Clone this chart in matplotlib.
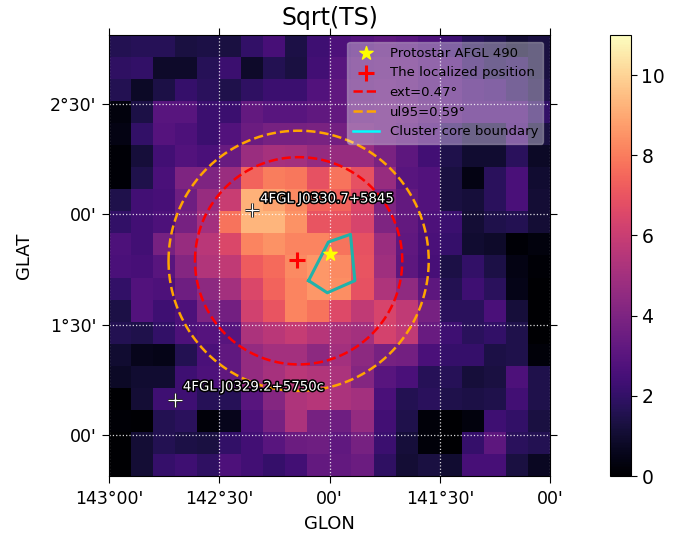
import numpy as np
import matplotlib
matplotlib.use('Agg')
import matplotlib.pyplot as plt
import matplotlib.patheffects as pe

# sqrt(TS) map, top row first
ts_rows = [
    [1.6, 1.7, 1.7, 1.3, 1.4, 1.3, 2.0, 2.5, 1.4, 2.3, 2.7, 2.9, 3.1, 3.0, 2.7, 2.3, 1.7, 1.5, 1.1, 1.3],
    [1.9, 2.0, 0.9, 0.9, 1.7, 2.2, 0.9, 1.6, 1.3, 2.4, 3.0, 3.2, 3.3, 3.3, 3.0, 2.8, 2.1, 1.7, 1.9, 1.3],
    [1.6, 0.8, 1.4, 2.1, 1.8, 1.5, 1.9, 2.2, 2.2, 2.8, 3.2, 3.3, 3.4, 3.3, 3.0, 2.9, 2.5, 2.4, 1.9, 1.5],
    [0.3, 1.4, 3.0, 3.0, 2.2, 2.2, 3.3, 3.0, 3.0, 3.2, 3.3, 3.4, 3.5, 3.4, 3.1, 3.0, 2.7, 2.7, 2.7, 2.0],
    [0.4, 2.0, 2.9, 2.7, 2.2, 2.8, 3.5, 3.8, 3.8, 3.9, 3.7, 3.7, 3.5, 3.2, 2.8, 2.0, 1.5, 1.5, 2.5, 1.3],
    [0.1, 1.2, 2.4, 2.8, 2.6, 3.4, 4.8, 5.1, 5.0, 4.6, 4.7, 4.7, 3.9, 3.1, 2.4, 1.5, 1.0, 1.0, 1.8, 0.8],
    [0.1, 1.5, 2.6, 4.0, 4.0, 4.8, 7.4, 8.0, 7.9, 6.9, 7.8, 6.9, 4.7, 3.0, 2.8, 1.3, 0.4, 1.8, 2.6, 1.0],
    [1.5, 2.4, 2.5, 3.6, 4.7, 6.0, 9.2, 8.9, 8.3, 7.4, 7.4, 6.5, 4.0, 3.3, 2.8, 1.3, 1.2, 1.8, 2.6, 1.1],
    [2.0, 2.4, 2.7, 3.8, 5.0, 7.8, 9.3, 9.3, 8.5, 7.0, 7.0, 6.4, 4.0, 3.3, 2.7, 2.2, 1.1, 1.5, 1.6, 1.1],
    [2.7, 2.4, 3.8, 4.7, 5.6, 6.5, 8.2, 8.5, 8.2, 8.2, 7.8, 6.9, 4.8, 3.2, 2.6, 2.1, 1.0, 0.9, 0.1, 0.3],
    [2.6, 2.5, 3.0, 4.2, 5.4, 5.8, 7.2, 7.6, 8.3, 8.6, 8.3, 7.0, 4.9, 3.1, 2.5, 1.4, 2.0, 1.4, 0.4, 0.1],
    [2.0, 2.8, 2.7, 3.6, 4.4, 5.0, 6.5, 7.4, 8.2, 8.6, 8.4, 6.9, 5.3, 4.5, 3.1, 1.6, 2.3, 1.8, 0.5, 0.0],
    [1.4, 2.8, 2.3, 2.7, 4.0, 3.7, 6.2, 7.0, 8.2, 7.8, 6.6, 5.8, 6.4, 5.8, 3.8, 1.8, 1.8, 2.6, 1.2, 0.0],
    [1.6, 1.5, 2.0, 2.7, 2.9, 3.0, 5.2, 5.6, 5.9, 5.5, 5.2, 5.0, 6.3, 5.8, 3.4, 2.3, 1.8, 2.0, 1.5, 0.0],
    [1.0, 0.6, 0.5, 1.6, 2.6, 3.2, 4.6, 5.0, 5.0, 4.4, 5.0, 4.4, 3.8, 3.7, 2.6, 2.1, 2.1, 1.4, 1.5, 0.2],
    [0.8, 1.0, 1.0, 2.3, 2.7, 3.2, 4.6, 5.1, 5.6, 5.4, 5.2, 4.2, 3.0, 2.6, 1.7, 1.7, 1.2, 1.3, 2.7, 1.5],
    [0.0, 1.1, 2.3, 2.3, 1.7, 1.7, 3.0, 4.2, 5.3, 5.5, 5.2, 5.0, 2.6, 1.6, 1.8, 1.5, 1.4, 1.5, 2.4, 1.5],
    [0.1, 0.05, 1.6, 1.8, 0.2, 0.6, 2.7, 3.8, 5.2, 3.8, 3.6, 4.6, 2.4, 1.5, 0.2, 0.0, 0.3, 2.3, 2.0, 1.3],
    [0.0, 1.1, 1.6, 1.4, 1.3, 2.0, 2.4, 3.0, 3.5, 3.6, 3.2, 3.8, 2.2, 1.2, 0.2, 0.0, 2.1, 3.1, 1.8, 1.6],
    [0.0, 1.1, 2.1, 2.3, 1.9, 2.7, 2.4, 2.1, 2.4, 3.3, 3.3, 3.5, 1.9, 1.1, 1.3, 1.0, 2.5, 2.5, 1.3, 0.7],
]

map_extent = [143.0, 141.0, 0.814, 2.814]

glon_ticks = [143.0, 142.5, 142.0, 141.5, 141.0]
glon_labels = ["143°00'", "142°30'", "00'", "141°30'", "00'"]
glat_ticks = [1.0, 1.5, 2.0, 2.5]
glat_labels = ["00'", "1°30'", "00'", "2°30'"]

star_lon, star_lat = 142.0, 1.82
center_lon, center_lat = 142.148, 1.794
circle_lon, circle_lat = 142.14, 1.79
ext_radius = 0.47
ul95_radius = 0.59

source_names = ['4FGL J0330.7+5845', '4FGL J0329.2+5750c']
source_lon = [142.35, 142.70]
source_lat = [2.02, 1.16]
label_lon = [142.315, 142.665]
label_lat = [2.07, 1.217]

core_lon = [142.095, 142.005, 141.905, 141.885, 142.01, 142.095]
core_lat = [1.70, 1.875, 1.91, 1.70, 1.645, 1.70]

fig = plt.figure(figsize=(6.86, 5.34), dpi=100)
ax = fig.add_axes([109 / 686, 1 - 476 / 534, 441 / 686, 441 / 534])
im = ax.imshow(np.array(ts_rows), cmap='magma', vmin=0, vmax=11, extent=map_extent,
               interpolation='nearest', aspect='auto')

ax.grid(color='white', linestyle=':', linewidth=0.9, alpha=0.85)
ax.set_xticks(glon_ticks)
ax.set_xticklabels(glon_labels)
ax.set_yticks(glat_ticks)
ax.set_yticklabels(glat_labels)
ax.tick_params(axis='both', labelsize=12.5, top=True, right=True, length=5, width=0.8, pad=4)
ax.tick_params(axis='x', pad=5)
ax.set_xlim(map_extent[0], map_extent[1])
ax.set_ylim(map_extent[2], map_extent[3])
ax.set_xlabel('GLON', fontsize=13, labelpad=5)
ax.set_ylabel('GLAT', fontsize=13, labelpad=12)
ax.set_title('Sqrt(TS)', fontsize=17, pad=7)

# 圆
theta = np.linspace(0, 2 * np.pi, 300)
ax.plot(circle_lon + ext_radius * np.cos(theta), circle_lat + ext_radius * np.sin(theta),
        color='red', linestyle='--', linewidth=1.8, label='ext=0.47°')
ax.plot(circle_lon + ul95_radius * np.cos(theta), circle_lat + ul95_radius * np.sin(theta),
        color='orange', linestyle='--', linewidth=1.8, label='ul95=0.59°')
ax.plot(core_lon, core_lat, color='lightseagreen', linewidth=2.2, solid_joinstyle='round')
ax.plot([], [], color='cyan', linewidth=1.8, label='Cluster core boundary')

ax.scatter([star_lon], [star_lat], marker='*', s=100, color='yellow', zorder=5,
           label='Protostar AFGL 490')
ax.scatter([center_lon], [center_lat], marker='+', s=120, color='red', linewidths=2.2,
           zorder=5, label='The localized position')

outline = [pe.withStroke(linewidth=2.2, foreground='black')]
for name, x, y, tx, ty in zip(source_names, source_lon, source_lat, label_lon, label_lat):
    ax.plot([x], [y], marker='+', markersize=10, color='white', markeredgewidth=1,
            path_effects=outline, linestyle='none')
    ax.text(tx, ty, name, color='white', fontsize=9.6, va='center', ha='left', path_effects=outline)

handles, labels = ax.get_legend_handles_labels()
order = [labels.index(s) for s in ['Protostar AFGL 490', 'The localized position', 'ext=0.47°',
                                   'ul95=0.59°', 'Cluster core boundary']]
leg = ax.legend([handles[i] for i in order], [labels[i] for i in order], loc='upper right',
                fontsize=9.5, framealpha=0.35, facecolor='white', edgecolor='lightgray',
                bbox_to_anchor=(0.985, 0.985), borderaxespad=0, labelspacing=0.5, markerscale=1)

cax = fig.add_axes([610 / 686, 1 - 476 / 534, 21 / 686, 441 / 534])
cbar = fig.colorbar(im, cax=cax)
cbar.set_ticks([0, 2, 4, 6, 8, 10])
cbar.ax.tick_params(labelsize=13.5, length=4)

fig.savefig('out.png', dpi=100)
